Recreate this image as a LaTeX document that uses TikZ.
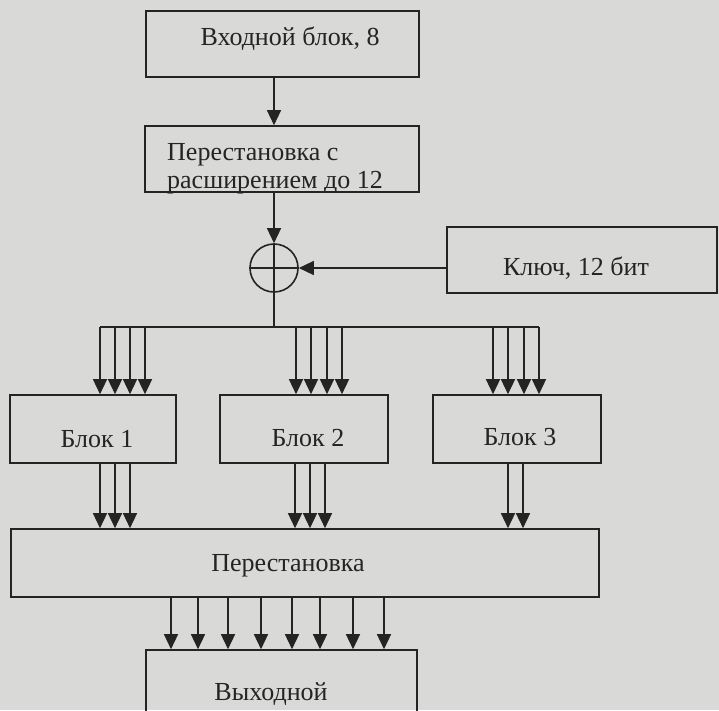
\documentclass[tikz,border=0pt]{standalone}
\usepackage{fontspec}
\setmainfont{Liberation Serif}
\usetikzlibrary{arrows.meta}
\definecolor{paper}{HTML}{D9D9D7}
\definecolor{ink}{HTML}{242424}
\begin{document}
\begin{tikzpicture}[x=1pt,y=-1pt,
  box/.style={draw=ink, line width=1.6pt, inner sep=0pt, rectangle},
  lbl/.style={anchor=base, text=ink, font=\fontsize{26}{30}\selectfont, inner sep=0pt},
  arr/.style={draw=ink, line width=1.4pt, -{Triangle[length=15pt,width=14pt]}},
  ln/.style={draw=ink, line width=1.4pt}]
\fill[paper] (0,0) rectangle (719,710);
\useasboundingbox (0,0) rectangle (719,710);
\begin{scope}
\clip (0,0) rectangle (719,710);
% boxes
\node (in)   [box, minimum width=273pt, minimum height=66pt] at (282.5,44) {};
\node (perm1)[box, minimum width=274pt, minimum height=66pt] at (282,159) {};
\node (key)  [box, minimum width=270pt, minimum height=66pt] at (582,260) {};
\node (xor)  [draw=ink, line width=1.6pt, circle, minimum size=48pt, inner sep=0pt] at (274,268) {};
\node (b1)   [box, minimum width=166pt, minimum height=68pt] at (93,429) {};
\node (b2)   [box, minimum width=168pt, minimum height=68pt] at (304,429) {};
\node (b3)   [box, minimum width=168pt, minimum height=68pt] at (517,429) {};
\node (perm) [box, minimum width=588pt, minimum height=68pt] at (305,563) {};
\node (out)  [box, minimum width=271pt, minimum height=80pt] at (281.5,690) {};
% labels
\node (tin)  [lbl] at (290,45) {Входной блок, 8};
\node (p1a)  [lbl, anchor=base west] at (167,160) {Перестановка с};
\node (p1b)  [lbl, anchor=base west] at (167,188) {расширением до 12};
\node (tkey) [lbl] at (576,275) {Ключ, 12 бит};
\node (tb1)  [lbl] at (97,447) {Блок 1};
\node (tb2)  [lbl] at (308,446) {Блок 2};
\node (tb3)  [lbl] at (520,445) {Блок 3};
\node (tperm)[lbl] at (288,571) {Перестановка};
\node (tout) [lbl] at (271,700) {Выходной};
% xor cross
\draw[ln] (xor.north) -- (xor.south);
\draw[ln] (xor.west) -- (xor.east);
% connectors
\draw[arr] (in.south -| xor) -- (perm1.north -| xor);
\draw[arr] (perm1.south -| xor) -- (xor.north);
\draw[arr] (key.west |- xor) -- (xor.east);
\coordinate (busL) at (100,327);
\coordinate (busR) at (539,327);
\draw[ln] (xor.south) -- (xor |- busL);
\draw[ln] (busL) -- (busR);
\foreach \x in {100,115,130,145} \draw[arr] (busL -| \x,0) -- (b1.north -| \x,0);
\foreach \x in {296,311,327,342} \draw[arr] (busL -| \x,0) -- (b2.north -| \x,0);
\foreach \x in {493,508,524,539} \draw[arr] (busL -| \x,0) -- (b3.north -| \x,0);
\foreach \x in {100,115,130} \draw[arr] (b1.south -| \x,0) -- (perm.north -| \x,0);
\foreach \x in {295,310,325} \draw[arr] (b2.south -| \x,0) -- (perm.north -| \x,0);
\foreach \x in {508,523} \draw[arr] (b3.south -| \x,0) -- (perm.north -| \x,0);
\foreach \x in {171,198,228,261,292,320,353,384} \draw[arr] (perm.south -| \x,0) -- (out.north -| \x,0);
\end{scope}
\end{tikzpicture}
\end{document}
